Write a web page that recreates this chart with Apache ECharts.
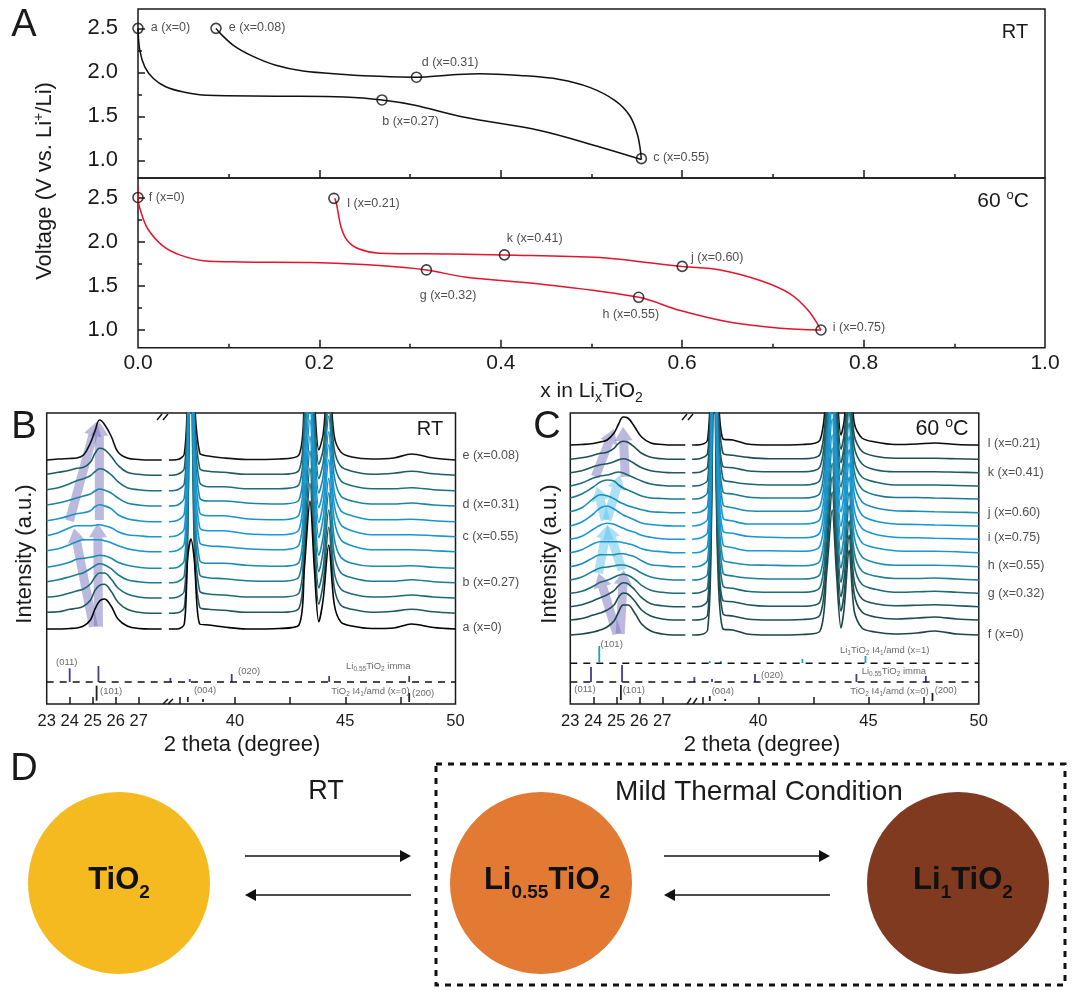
<!DOCTYPE html>
<html><head><meta charset="utf-8">
<script src="https://cdn.jsdelivr.net/npm/echarts@6/dist/echarts.min.js"></script>
<style>html,body{margin:0;padding:0;background:#fff}#c{width:1080px;height:995px}</style></head>
<body><div id="c"></div>
<script>
// ---------- Panel A data: x in LixTiO2, voltage ----------
const rtDischargeX=[0,0.002,0.0076,0.017,0.03,0.049,0.076,0.152,0.228,0.269,0.304,0.36,0.443,0.51,0.555];
const rtDischargeV=[2.5,2.25,2.06,1.93,1.84,1.78,1.74,1.73,1.72,1.687,1.63,1.49,1.34,1.15,1.01];
const rtChargeX=[0.555,0.551,0.542,0.526,0.498,0.465,0.421,0.377,0.344,0.307,0.266,0.228,0.182,0.152,0.125,0.106,0.091,0.086];
const rtChargeV=[1.01,1.28,1.51,1.68,1.83,1.92,1.965,1.985,1.97,1.945,1.955,1.977,2.015,2.08,2.19,2.3,2.44,2.5];
const hotDischargeX=[0,0,0.004,0.011,0.027,0.046,0.072,0.114,0.19,0.266,0.318,0.36,0.443,0.552,0.598,0.653,0.708,0.753];
const hotDischargeV=[2.63,2.5,2.31,2.14,1.955,1.85,1.785,1.77,1.763,1.73,1.68,1.6,1.52,1.37,1.22,1.087,1.02,1.0];
const hotChargeX=[0.753,0.739,0.719,0.686,0.642,0.6,0.564,0.509,0.404,0.344,0.266,0.243,0.231,0.224,0.219,0.217];
const hotChargeV=[1.0,1.22,1.41,1.56,1.68,1.72,1.76,1.82,1.85,1.86,1.87,1.92,2.01,2.16,2.42,2.49];
const rtPointNames=['a (x=0)','e (x=0.08)','d (x=0.31)','b (x=0.27)','c (x=0.55)'];
const rtPointX=[0,0.086,0.307,0.269,0.555];
const rtPointV=[2.5,2.5,1.945,1.687,1.02];
const hotPointNames=['f (x=0)','l (x=0.21)','k (x=0.41)','j (x=0.60)','g (x=0.32)','h (x=0.55)','i (x=0.75)'];
const hotPointX=[0,0.216,0.404,0.6,0.318,0.552,0.753];
const hotPointV=[2.5,2.49,1.85,1.72,1.68,1.37,1.0];
const rtLabelShift=[[7,-1],[7,-1],[-0.5,-15],[-5.5,22],[6,-1]];
const hotLabelShift=[[5,0],[7.6,5],[-3.5,-16],[3,-9],[-12.5,26],[-42,17],[6,-2]];

// ---------- Panels B, C: 2-theta sampling ----------
const thetaLeft=[23,23.5,24,24.3,24.6,24.9,25.1,25.3,25.5,25.8,26.1,26.5,27,27.5,28];
const thetaRightB=[37,37.4,37.7,37.85,38,38.15,38.4,38.8,39.5,40.5,42,42.9,43.15,43.4,43.6,43.8,44,44.25,44.5,44.8,45.3,46.2,47.2,48,49,50];
const thetaRightC=[37,37.4,37.7,37.85,38,38.15,38.4,38.85,39.5,40.5,42,42.8,43.1,43.35,43.55,43.75,43.9,44.12,44.35,44.7,45.3,46.2,47.2,48,49,50];
// trace offsets (bottom to top)
const offsetsB=[75,90.7,106,121.3,135.7,152.3,167.3,182.3,198,213.3,228.7,244];
const offsetsC=[69,84,97.3,110.7,124,137.3,151.3,164.7,178,191.3,205,218,231.3,244.7,259];
// Panel B, 23-28 degrees
const bL1=[0,0,0.5,1,3,9,20,28,30,23,10,3,0.5,0,0];
const bL2=[1,1.5,4,5,7,13,23,28,29,22,11,4,1,0,0];
const bL3=[1,2,5,7,9,14,21,25,25,19,10,4,1,0,0];
const bL4=[1,3,6,8,10,14,17,19,18,14,8,3,1,0,0];
const bL5=[1,3,6,9,10,11,12,13,12.5,10,6,3,1,0,0];
const bL6=[1,3,7,10,12,12,12,12,11,9,6,3,1,0,0];
const bL7=[1,4,9,11,11,11,11.5,12,11,9,5,2,1,0,0];
const bL8=[1,3,6,8,9,11,15,17,16,13,7,3,1,0,0];
const bL9=[1,3,6,8,10,12,15,17,16,13,8,3,1,0,0];
const bL10=[1,3,7,10,12,15,19,22,21,16,9,3,1,0,0];
const bL11=[1,3,5,7,8,13,22,27,26,19,10,3,1,0,0];
const bL12=[0,1,1.5,2,5,17,29,40,36,24,8,2,0.5,0,0];
// Panel B, 37-50 degrees
const bR1=[0,0,5,70,90,70,5,4,2,0,0.5,4,62,128,60,7,30,84,25,7,3,0.5,1,5,1.5,0];
const bR2=[0,0.5,6,70,300,70,6,4,3,1,1,5,62,130,60,9,30,86,26,8,4,1,2,4,1.5,0];
const bR3=[0,1,7,70,300,70,7,4,3,1,1,5,62,130,60,10,30,88,26,9,4,1,1.5,3,1,0];
const bR4=[0,1,7,75,300,75,8,5,4,2,1.5,6,64,132,62,11,32,90,28,10,5,1.5,1.5,3,1,0];
const bR5=[0,1,8,75,300,75,8,5,5,3,2,6,64,132,62,13,32,90,30,11,5,2,2,2.5,1,0];
const bR6=[0,1.5,8,75,300,75,9,6,5,3,2,7,64,132,64,14,34,92,32,12,6,2,2,2,1,0];
const bR7=[0,1.5,8,75,300,75,9,6,6,3,2,7,66,132,64,14,34,92,32,12,6,2,2,2,1,0];
const bR8=[0,1.5,8,75,300,75,9,6,6,3,2,7,66,134,64,14,32,90,30,11,6,2,2,2.5,1,0];
const bR9=[0,1,8,75,300,75,8,5,5,3,2,6,64,132,62,13,30,90,30,10,5,2,2,3,1,0];
const bR10=[0,1,7,70,300,70,8,4,4,2,2,6,64,132,62,12,28,88,28,10,5,2,2,3,1,0];
const bR11=[0,1,7,70,300,70,7,4,3,1,1,5,62,130,60,11,26,86,26,9,4,1,2,4,1.5,0];
const bR12=[0,0.5,6,70,300,70,7,4,2,0.5,1,5,62,130,60,10,26,85,24,8,3,1,2,6,2,0];
// Panel C, 23-28 degrees
const cL1=[0,1,3,5,8,14,23,30,30,22,11,4,1,0,0];
const cL2=[0,1.5,5,7,10,15,23,27,26,19,10,4,1,0,0];
const cL3=[0,2,6,9,12,16,21,24,23,17,9,3,1,0,0];
const cL4=[0,2,7,11,13,16,18,19,18,14,8,3,1,0,0];
const cL5=[0,3,9,12,13,14,15,15,14,11,7,3,1,0,0];
const cL6=[0,3,9,12,12,12,13,13,12,10,6,2,1,0,0];
const cL7=[0,3,9,11,11,11,11,10,9,7,4,2,1,0,0];
const cL8=[0,3,10,14,16,15,13,11,9,7,4,2,0.5,0,0];
const cL9=[0,4,12,18,20,17,14,11,9,6,3,1.5,0.5,0,0];
const cL10=[1,5,14,18,17,14,11,9,7,5,3,1,0.5,0,0];
const cL11=[1,5,12,17,19,18,14,11,9,6,3,1,0.5,0,0];
const cL12=[0,3,8,10,11,13,14,13,11,8,5,2,0.5,0,0];
const cL13=[0,2,6,8,9,11,13,14,13,9,5,2,0.5,0,0];
const cL14=[0,1.5,4,6,7,11,16,18,17,12,6,2,0.5,0,0];
const cL15=[0,0.5,1.5,3,5,12,21,28,27,18,8,2,0.5,0,0];
// Panel C, 37-50 degrees
const cR1=[0,0.5,5,80,300,80,6,5,1,0,0.5,4,62,125,60,7,28,85,24,7,3,1,2,4,1,0];
const cR2=[0,0.5,5,80,300,80,6,4,1,0,0.5,5,62,128,60,9,28,85,26,8,3,1,2,3,1,0];
const cR3=[0,0.5,6,80,300,80,6,5,2,0.5,0.5,5,62,130,62,10,30,86,26,8,3,1,1.5,2,1,0];
const cR4=[0,1,6,80,300,80,7,5,2,1,1,6,64,130,62,11,32,88,28,9,4,1,1.5,2,1,0];
const cR5=[0,1,6,80,300,80,7,4,2,1,1,6,64,132,62,12,32,88,28,9,4,1.5,1.5,2,1,0];
const cR6=[0,1,7,80,300,80,7,4,2,1.5,1,6,64,132,64,12,34,90,30,10,4,1.5,1.5,1.5,1,0];
const cR7=[0,1,7,80,300,80,8,5,2,2,1.5,7,66,134,64,13,34,90,30,10,5,2,1.5,1.5,1,0];
const cR8=[0,1.5,7,80,300,80,8,6,3,2,1.5,7,66,134,64,13,34,90,30,11,5,2,1.5,1,0.5,0];
const cR9=[0,1.5,7,80,300,80,8,5,2,2,2,7,66,134,64,14,34,90,32,11,5,2,1.5,1,0.5,0];
const cR10=[0,1,7,80,300,80,8,5,2,1.5,1.5,7,66,134,64,13,34,90,30,11,5,2,1.5,1,0.5,0];
const cR11=[0,1,7,80,300,80,7,5,2,1,1,6,64,132,62,12,32,88,28,10,4,1.5,1.5,1,0.5,0];
const cR12=[0,1,6,80,300,80,7,4,2,1,1,6,64,130,62,11,30,88,26,9,4,1,1,1,0.5,0];
const cR13=[0,1,6,80,300,80,6,5,2,1,1,6,62,130,60,10,28,86,26,9,3,1,1,1,0.5,0];
const cR14=[0,1,6,75,300,75,6,4,2,0.5,0.5,5,62,128,60,10,26,85,24,8,3,1,1,1,0.5,0];
const cR15=[0,0.5,5,75,300,75,6,5,1,0,0.5,5,62,128,60,10,25,85,22,7,3,0.5,1,2,0.5,0];
const bLeft=[bL1,bL2,bL3,bL4,bL5,bL6,bL7,bL8,bL9,bL10,bL11,bL12];
const bRight=[bR1,bR2,bR3,bR4,bR5,bR6,bR7,bR8,bR9,bR10,bR11,bR12];
const cLeft=[cL1,cL2,cL3,cL4,cL5,cL6,cL7,cL8,cL9,cL10,cL11,cL12,cL13,cL14,cL15];
const cRight=[cR1,cR2,cR3,cR4,cR5,cR6,cR7,cR8,cR9,cR10,cR11,cR12,cR13,cR14,cR15];
const coloursB=['#000000','#1f5a60','#1c6a78','#1b7b90','#1a8bb0','#1893cc','#1896d6','#1893cc','#1b85a8','#1c6f80','#1e5c62','#111111'];
const coloursC=['#1d4448','#1d4c52','#1e565e','#1d6a78','#1b7f98','#1a8eb5','#1896d0','#1896d6','#1896d0','#1a8db5','#1b7a90','#1d6670','#1e5860','#1e4c50','#0a0a0a'];
// reflection sticks [2theta, from, to]
const bImmaLeft=[[24,22,35.7],[25.25,22,38]];
const bImmaRight=[[37.07,22,26],[37.95,22,25],[39.85,22,30],[44.27,22,28],[47.9,22,28]];
const bTiLeft=[[25.17,3.3,18.3]];
const bTiRight=[[37.86,2,7],[38.55,2,5],[47.9,2,11]];
const cLiLeft=[[24.26,42,58]];
const cLiRight=[[37.8,41,43],[38.3,41,43],[42,41,45],[44.86,41,48]];
const cImmaLeft=[[23.9,22,37],[25.25,22,39]];
const cImmaRight=[[37.1,22,27],[37.9,22,25],[39.85,22,30],[44.45,22,30],[47.6,22,28]];
const cTiLeft=[[25.2,4,19]];
const cTiRight=[[37.8,3,8],[38.5,3,5],[47.9,3,11]];
// arrows [x1,y1,x2,y2]
const bArrows=[[25.03,77.3,24.19,175.7],[25.25,77.3,25.22,180.7],[23.99,183.3,25.17,282.3],[25.29,184,25.29,282.3]];
const cPurpleArrows=[[25.03,70,24.23,130.7],[25.17,70,25.32,134],[24.09,227.3,24.9,275],[25.39,227.3,25.29,277.3]];
const cBlueArrows=[[24.23,130.7,24.62,179],[25.25,134,24.6,179],[24.52,184,24.16,217.3],[24.6,184,25.17,229]];
// text annotations in axis units
const bTextLeft=[['(011)',23.87,41.3],['(101)',25.8,12.3]];
const bTextRight=[['(004)',38.64,14],['(020)',40.64,32.3],['Li{s|0.55}TiO{s|2} imma',46.5,37.3],['TiO{s|2} I4{s|1}/amd (x=0)',46.14,13],['(200)',48.53,10.7]];
const cTextLeft=[['(101)',24.8,60],['(011)',23.64,14.7],['(101)',25.76,13.3]];
const cTextRight=[['(004)',38.39,13],['(020)',40.63,29],['Li{s|1}TiO{s|2} I4{s|1}/amd (x=1)',45.73,54],['Li{s|0.55}TiO{s|2} imma',46.15,32.3],['TiO{s|2} I4{s|1}/amd (x=0)',45.95,13],['(200)',48.5,13.3]];
const bRightLabels=[['e (x=0.08)',248],['d (x=0.31)',199],['c (x=0.55)',167.3],['b (x=0.27)',121],['a (x=0)',76]];
const cRightLabels=[['l (x=0.21)',260],['k (x=0.41)',231.3],['j (x=0.60)',191.3],['i (x=0.75)',166.7],['h (x=0.55)',138.3],['g (x=0.32)',110],['f (x=0)',69]];

// ---------- build ----------
const FONT='"Liberation Sans",Arial,sans-serif';
const INK='#1a1a1a';
const grid=[],xAxis=[],yAxis=[],series=[];
const zip=(xs,ys)=>xs.map((v,i)=>[v,ys[i]]);
function addX(gi,o){xAxis.push(Object.assign({type:'value',gridIndex:gi,position:'bottom',splitLine:{show:false},axisLine:{show:false},axisTick:{show:false},axisLabel:{show:false}},o));return xAxis.length-1;}
function addY(gi,o){yAxis.push(Object.assign({type:'value',gridIndex:gi,position:'left',splitLine:{show:false},axisLine:{show:false},axisTick:{show:false},axisLabel:{show:false}},o));return yAxis.length-1;}
function tick(vals,len){return {show:true,inside:true,length:len,customValues:vals,lineStyle:{color:INK,width:1.5}};}
function labels(vals,size,margin,fmt){return {show:true,customValues:vals,fontSize:size,fontFamily:FONT,color:INK,margin:margin,formatter:fmt,hideOverlap:false,showMinLabel:true,showMaxLabel:true};}

function voltagePanel(top,height,showX,series1,series2,colour,names,px,pv,shift){
  const gi=grid.length;
  grid.push({left:138,top:top,width:907,height:height,show:true,borderColor:INK,borderWidth:1.5,backgroundColor:'transparent'});
  const xo={min:0,max:1,axisTick:tick([0.2,0.4,0.6,0.8],8)};
  if(showX){
    xo.axisLabel=labels([0,0.2,0.4,0.6,0.8,1],21,5,v=>v.toFixed(1));
    xo.name='x in Li{s|x}TiO{s|2}';xo.nameLocation='middle';xo.nameGap=31;
    xo.nameTextStyle={fontSize:21,fontFamily:FONT,color:INK,rich:{s:{fontSize:14,fontFamily:FONT,color:INK,padding:[12,0,0,0]}}};
  }
  const xa=addX(gi,xo);
  addX(gi,{min:0,max:1,axisTick:tick([0.1,0.3,0.5,0.7,0.9],4)});
  const ya=addY(gi,{min:0.8,max:2.72,axisTick:tick([1,1.5,2,2.5],7),axisLabel:labels([1,1.5,2,2.5],22,20,v=>v.toFixed(1))});
  addY(gi,{min:0.8,max:2.72,axisTick:tick([1.25,1.75,2.25],4)});
  [series1,series2].forEach(d=>series.push({type:'line',xAxisIndex:xa,yAxisIndex:ya,data:d,showSymbol:false,smooth:0.35,lineStyle:{color:colour,width:1.5},silent:true,z:3}));
  series.push({type:'scatter',xAxisIndex:xa,yAxisIndex:ya,clip:false,symbol:'circle',symbolSize:10,z:5,
    itemStyle:{color:'rgba(0,0,0,0)',borderColor:'#111',borderWidth:1.6},
    data:names.map((n,i)=>({value:[px[i],pv[i]],name:n,label:{show:true,position:'right',distance:0,offset:shift[i],formatter:n,fontSize:12.5,fontFamily:FONT,color:'#222'}}))});
}
voltagePanel(9,169,false,zip(rtDischargeX,rtDischargeV),zip(rtChargeX,rtChargeV),'#111',rtPointNames,rtPointX,rtPointV,rtLabelShift);
voltagePanel(178,169.7,true,zip(hotDischargeX,hotDischargeV),zip(hotChargeX,hotChargeV),'#e5132b',hotPointNames,hotPointX,hotPointV,hotLabelShift);

function stickSeries(xa,ya,data,colour,width){
  series.push({type:'custom',xAxisIndex:xa,yAxisIndex:ya,data:data,silent:true,z:6,clip:false,
    encode:{x:0,y:[1,2]},
    renderItem:(p,api)=>{const a=api.coord([api.value(0),api.value(1)]),b=api.coord([api.value(0),api.value(2)]);
      return {type:'line',shape:{x1:a[0],y1:a[1],x2:b[0],y2:b[1]},style:{stroke:colour,lineWidth:width}};}});
}
function arrowSeries(xa,ya,data,colour){
  series.push({type:'custom',xAxisIndex:xa,yAxisIndex:ya,data:data,silent:true,z:5,clip:false,
    encode:{x:[0,2],y:[1,3]},
    renderItem:(p,api)=>{const a=api.coord([api.value(0),api.value(1)]),b=api.coord([api.value(2),api.value(3)]);
      const dx=b[0]-a[0],dy=b[1]-a[1],L=Math.hypot(dx,dy),ux=dx/L,uy=dy/L,nx=-uy,ny=ux,s=4.5,h=9,hl=14;
      const c=[b[0]-ux*hl,b[1]-uy*hl];
      return {type:'polygon',shape:{points:[[a[0]+nx*s,a[1]+ny*s],[c[0]+nx*s,c[1]+ny*s],[c[0]+nx*h,c[1]+ny*h],b,[c[0]-nx*h,c[1]-ny*h],[c[0]-nx*s,c[1]-ny*s],[a[0]-nx*s,a[1]-ny*s]]},style:{fill:colour}};}});
}
function textSeries(xa,ya,rows){
  series.push({type:'scatter',xAxisIndex:xa,yAxisIndex:ya,symbolSize:0,clip:false,silent:true,z:30,
    data:rows.map(r=>({value:[r[1],r[2]],label:{show:true,position:'inside',formatter:r[0],fontSize:9.5,fontFamily:FONT,color:'#444',rich:{s:{fontSize:6.5,fontFamily:FONT,color:'#444',padding:[6,0,0,0]}}}}))});
}
function xrdPanel(left,x40,cfg){
  const top=413,h=291,split=left+118.3,pxR=22.05;
  const gf=grid.length;
  grid.push({left:left,top:top,width:x40+220.5-left,height:h,show:true,borderColor:INK,borderWidth:1.5,backgroundColor:'transparent'});
  addX(gf,{min:0,max:1});addY(gf,{min:0,max:1});
  const gl=grid.length;
  grid.push({left:left,top:top,width:split-left,height:h});
  const maxL=23+(split-left)/23;
  const xl=addX(gl,{min:23,max:maxL,axisTick:tick([24,25,26,27],7),axisLabel:labels([23,24,25,26,27],16.5,9,v=>String(v))});
  const yl=addY(gl,{min:0,max:h});
  const gr=grid.length;
  grid.push({left:split,top:top,width:x40+220.5-split,height:h});
  const minR=40-(x40-split)/pxR;
  const xr=addX(gr,{min:minR,max:50,axisTick:tick([37.5,40,42.5,45,47.5],7),axisLabel:labels([40,45,50],16.5,9,v=>String(v))});
  const yr=addY(gr,{min:0,max:h});
  const n=cfg.offsets.length,mid=(n-1)/2;
  cfg.offsets.forEach((off,i)=>{
    const z=i===0&&cfg.bottomTop?22:16-Math.round(Math.abs(i-mid))/2;
    const ls={color:cfg.colours[i],width:1.6};
    series.push({type:'line',xAxisIndex:xl,yAxisIndex:yl,showSymbol:false,smooth:0.4,silent:true,z:z,lineStyle:ls,data:cfg.left[i].map((v,k)=>[thetaLeft[k],off+v])});
    series.push({type:'line',xAxisIndex:xr,yAxisIndex:yr,showSymbol:false,smooth:0.3,silent:true,z:z,lineStyle:ls,data:cfg.right[i].map((v,k)=>[cfg.thetaR[k],off+v])});
  });
  cfg.dashes.forEach(d=>{
    const ds={color:'#111',width:1.5,type:[7,6]};
    series.push({type:'line',xAxisIndex:xl,yAxisIndex:yl,showSymbol:false,silent:true,z:6,lineStyle:ds,data:[[23,d],[maxL,d]]});
    series.push({type:'line',xAxisIndex:xr,yAxisIndex:yr,showSymbol:false,silent:true,z:6,lineStyle:ds,data:[[minR,d],[50,d]]});
  });
  cfg.sticksL.forEach(s=>stickSeries(xl,yl,s[0],s[1],s[2]));
  cfg.sticksR.forEach(s=>stickSeries(xr,yr,s[0],s[1],s[2]));
  cfg.arrows.forEach(a=>arrowSeries(xl,yl,a[0],a[1]));
  textSeries(xl,yl,cfg.textL);textSeries(xr,yr,cfg.textR);
  series.push({type:'scatter',xAxisIndex:xr,yAxisIndex:yr,symbolSize:0,clip:false,silent:true,z:30,
    data:cfg.rightLabels.map(r=>({value:[50,r[1]],label:{show:true,position:'right',distance:cfg.labelGap,formatter:r[0],fontSize:12.5,fontFamily:FONT,color:'#222'}}))});
}
const PURPLE='rgba(120,115,190,0.5)',SKY='rgba(90,195,235,0.5)',STICK='#3d3f8f';
xrdPanel(46.7,235,{offsets:offsetsB,colours:coloursB,left:bLeft,right:bRight,thetaR:thetaRightB,bottomTop:true,dashes:[22],
  sticksL:[[bImmaLeft,STICK,1.8],[bTiLeft,'#222',1.8]],sticksR:[[bImmaRight,STICK,1.8],[bTiRight,'#222',1.8]],
  arrows:[[bArrows,PURPLE]],textL:bTextLeft,textR:bTextRight,rightLabels:bRightLabels,labelGap:7});
xrdPanel(570.3,758.3,{offsets:offsetsC,colours:coloursC,left:cLeft,right:cRight,thetaR:thetaRightC,bottomTop:false,dashes:[22,40.7],
  sticksL:[[cLiLeft,'#17a3b8',1.8],[cImmaLeft,STICK,1.8],[cTiLeft,'#222',1.8]],sticksR:[[cLiRight,'#1aa5d8',1.8],[cImmaRight,STICK,1.8],[cTiRight,'#222',1.8]],
  arrows:[[cPurpleArrows,PURPLE],[cBlueArrows,SKY]],textL:cTextLeft,textR:cTextRight,rightLabels:cRightLabels,labelGap:9});

// ---------- free text and panel D diagram ----------
function T(x,y,text,size,extra){
  const e=extra||{};
  return {type:'text',x:x,y:y,rotation:e.rotation||0,z:50,style:{text:text,fontSize:size,fontFamily:FONT,fontWeight:e.weight||'normal',fill:e.fill||INK,align:e.align||'center',verticalAlign:'middle',rich:e.rich}};
}
function slash(x1,y1,x2,y2){return {type:'line',shape:{x1,y1,x2,y2},style:{stroke:'#111',lineWidth:1.4},z:50};}
const boldSub={b:{fontSize:19,fontWeight:'bold',fontFamily:FONT,fill:'#111',padding:[26,0,0,0]}};
const g=[
 T(24,26,'A',38),T(24,428,'B',38),T(547,428,'C',38),T(24,770,'D',38),
 T(45,181,'Voltage (V vs. Li{u|+}/Li)',22,{rotation:Math.PI/2,rich:{u:{fontSize:14,fontFamily:FONT,fill:INK,padding:[0,0,12,0]}}}),
 T(25,554,'Intensity (a.u.)',22,{rotation:Math.PI/2}),
 T(550,554,'Intensity (a.u.)',22,{rotation:Math.PI/2}),
 T(242,745,'2 theta (degree)',22),T(762,745,'2 theta (degree)',22),
 T(1015,32,'RT',20),T(1003,201,'60 {o|o}C',21,{rich:{o:{fontSize:13,fontFamily:FONT,fill:INK,padding:[0,0,12,0]}}}),
 T(430,429,'RT',20),T(942,429,'60 {o|o}C',21.5,{rich:{o:{fontSize:14,fontFamily:FONT,fill:INK,padding:[0,0,12,0]}}}),
 slash(157,420,162,414),slash(163,420,168,414),slash(163,704,168,699),slash(168,704,173,699),
 slash(682,420,687,414),slash(688,420,693,414),slash(687,704,691,698),slash(693,704,697,698),
 {type:'circle',shape:{cx:119,cy:883,r:91},style:{fill:'#F4BA1F'},z:40},
 {type:'circle',shape:{cx:541,cy:883,r:91},style:{fill:'#E27A34'},z:40},
 {type:'circle',shape:{cx:958,cy:883,r:91},style:{fill:'#7F3A20'},z:40},
 T(119,880,'TiO{b|2}',31,{weight:'bold',fill:'#111',rich:boldSub}),
 T(547,880,'Li{b|0.55}TiO{b|2}',31,{weight:'bold',fill:'#111',rich:boldSub}),
 T(963,880,'Li{b|1}TiO{b|2}',31,{weight:'bold',fill:'#111',rich:boldSub}),
 T(326,792,'RT',27),T(759,792,'Mild Thermal Condition',28),
 {type:'rect',shape:{x:436,y:764,width:629,height:221},style:{fill:'transparent',stroke:'#111',lineWidth:3,lineDash:[6,6]},z:40}
];
function dArrow(x1,x2,y){
  const d=x2>x1?1:-1;
  g.push({type:'line',shape:{x1:x1,y1:y,x2:x2-d*9,y2:y},style:{stroke:'#111',lineWidth:1.7},z:40});
  g.push({type:'polygon',shape:{points:[[x2,y],[x2-d*11,y-6],[x2-d*11,y+6]]},style:{fill:'#111'},z:40});
}
dArrow(245,411,856);dArrow(411,245,895);dArrow(664,830,856);dArrow(830,664,895);

const chart=echarts.init(document.getElementById('c'),null,{renderer:'canvas'});
chart.setOption({animation:false,backgroundColor:'#fff',tooltip:{show:false},grid,xAxis,yAxis,series,graphic:{elements:g}});
</script></body></html>
